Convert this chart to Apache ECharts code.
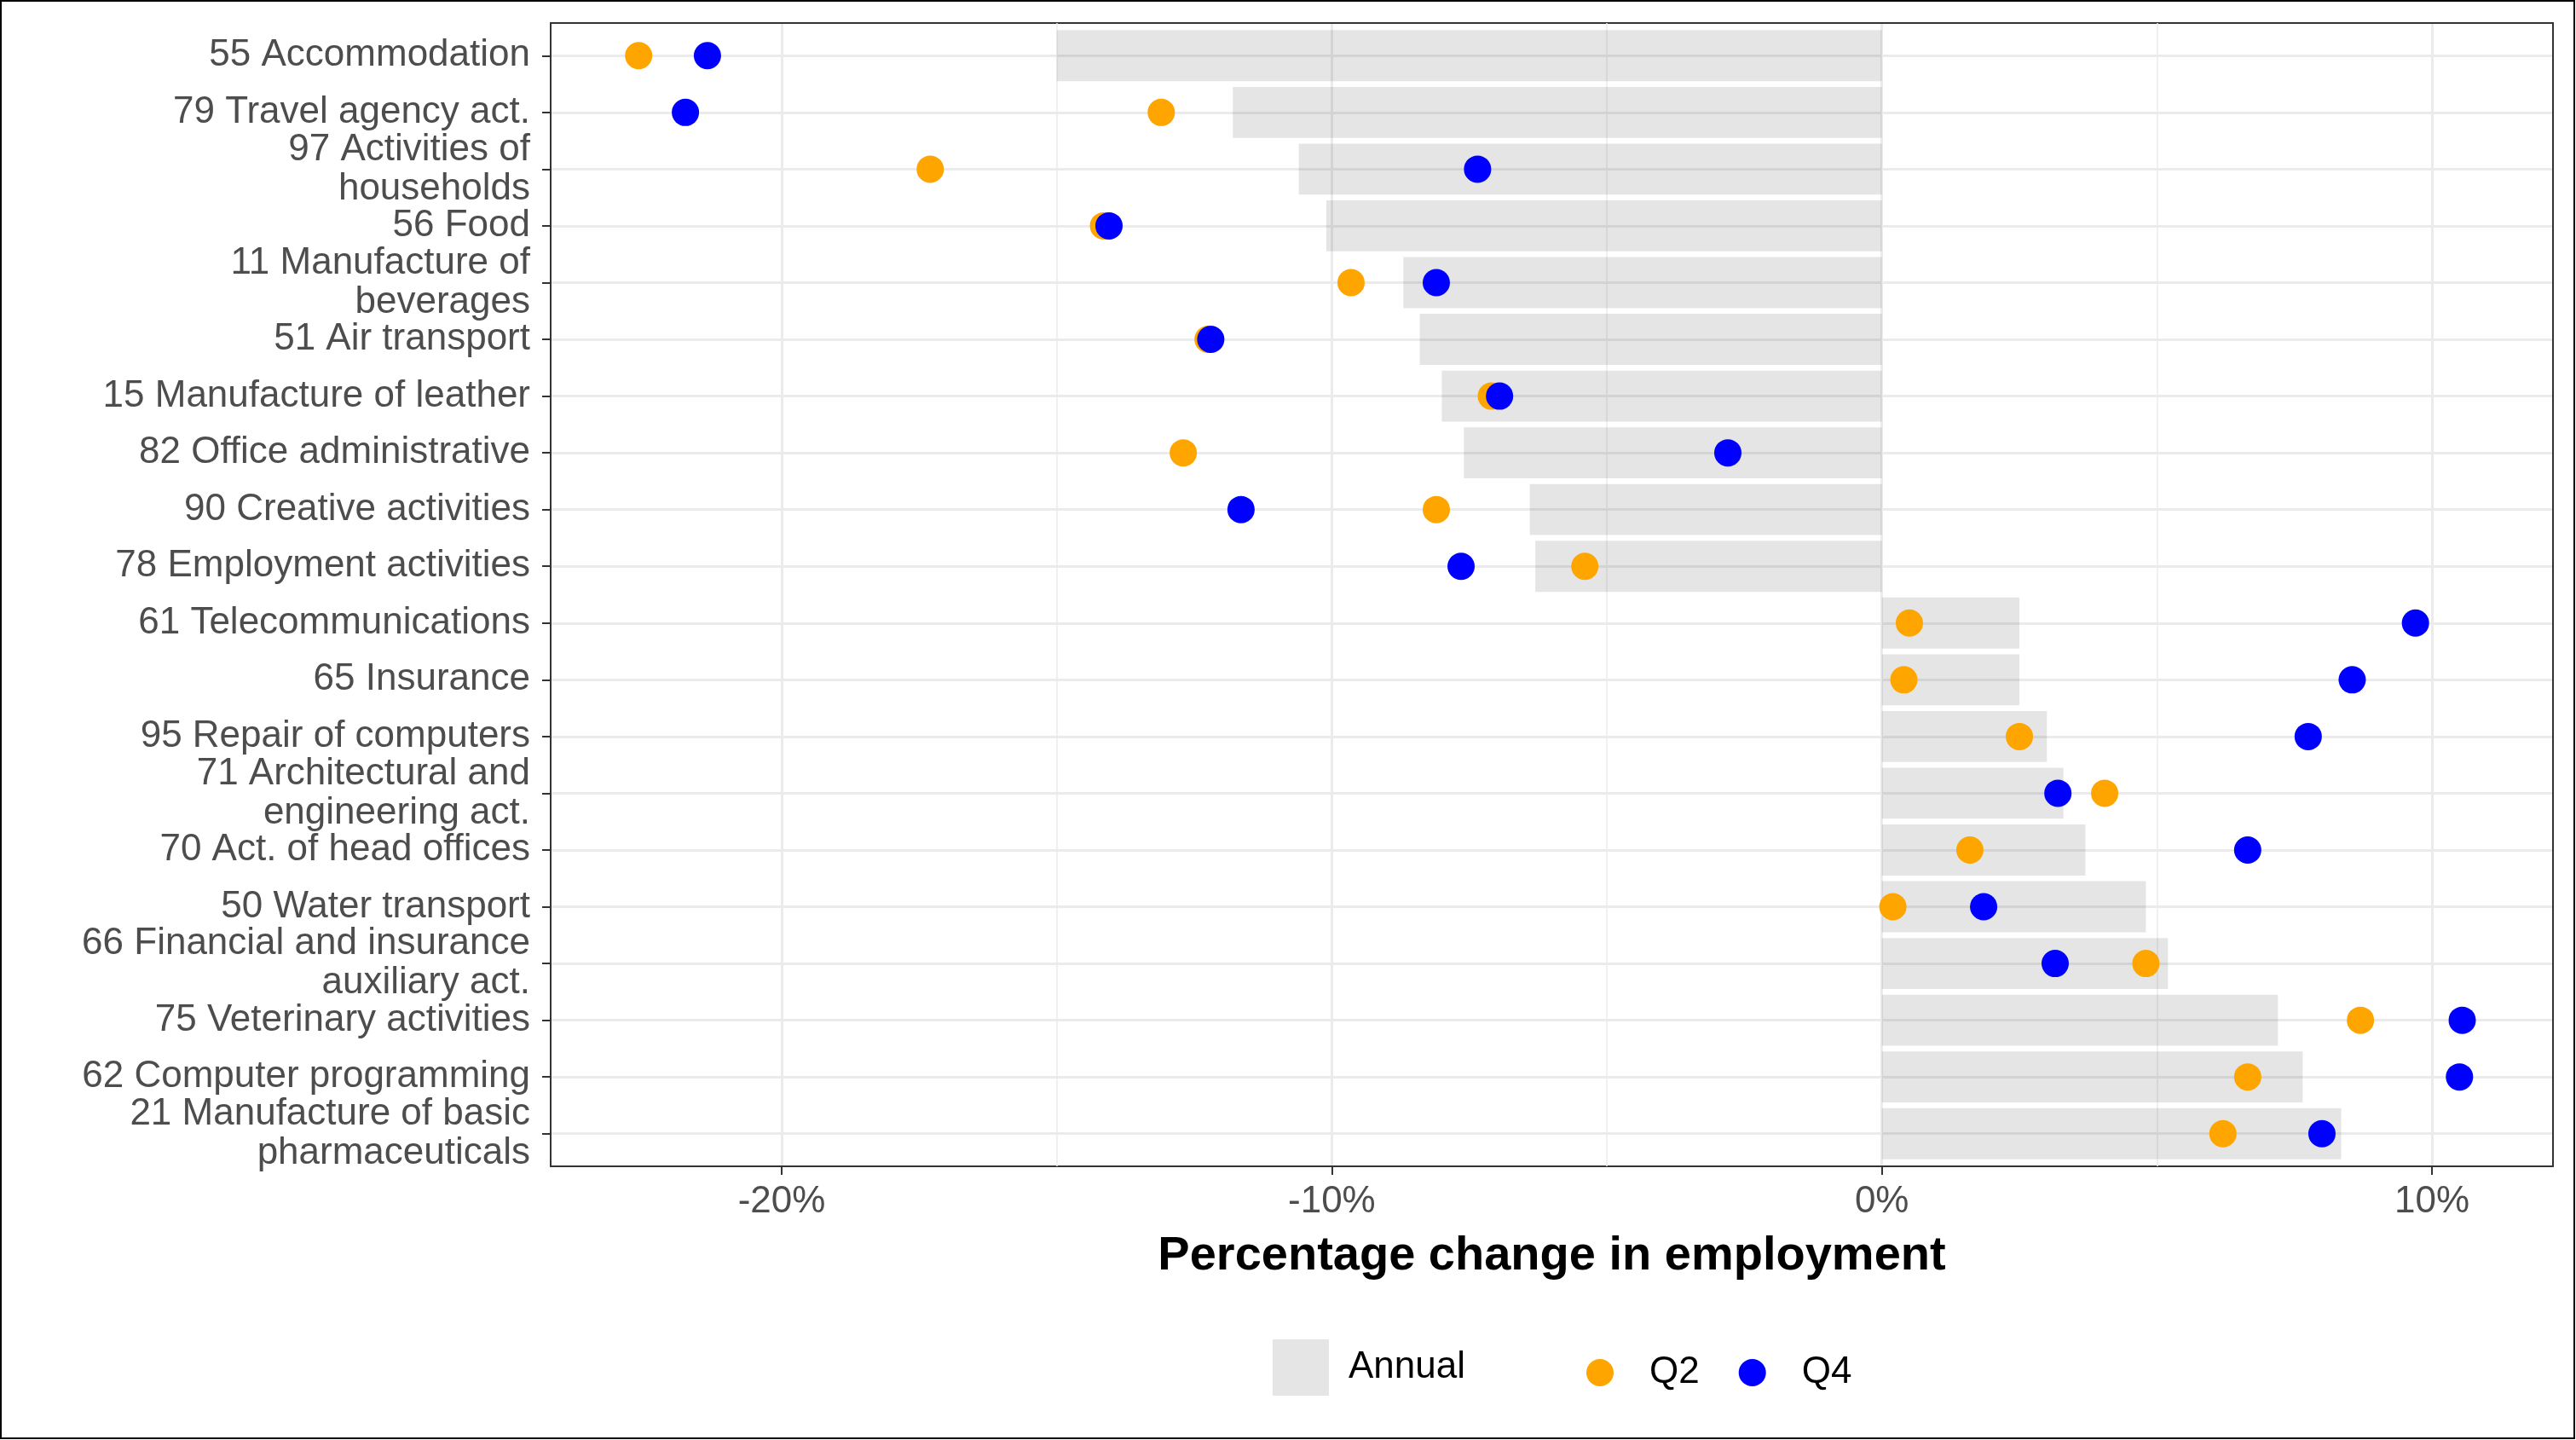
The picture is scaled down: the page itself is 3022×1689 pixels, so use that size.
<!DOCTYPE html>
<html>
<head>
<meta charset="utf-8">
<script src="https://cdn.jsdelivr.net/npm/echarts@6/dist/echarts.min.js"></script>
<style>
html,body{margin:0;padding:0;background:#ffffff;}
#chart{width:3022px;height:1689px;}
</style>
</head>
<body>
<div id="chart"></div>
<script>
// ---- data (top to bottom) ----
const categories = [
  "55 Accommodation",
  "79 Travel agency act.",
  "97 Activities of\nhouseholds",
  "56 Food",
  "11 Manufacture of\nbeverages",
  "51 Air transport",
  "15 Manufacture of leather",
  "82 Office administrative",
  "90 Creative activities",
  "78 Employment activities",
  "61 Telecommunications",
  "65 Insurance",
  "95 Repair of computers",
  "71 Architectural and\nengineering act.",
  "70 Act. of head offices",
  "50 Water transport",
  "66 Financial and insurance\nauxiliary act.",
  "75 Veterinary activities",
  "62 Computer programming",
  "21 Manufacture of basic\npharmaceuticals"
];
const annual = [-15.0, -11.8, -10.6, -10.1, -8.7, -8.4, -8.0, -7.6, -6.4, -6.3,
                 2.5, 2.5, 3.0, 3.3, 3.7, 4.8, 5.2, 7.2, 7.65, 8.35];
const q2 = [-22.6, -13.1, -17.3, -14.15, -9.65, -12.25, -7.1, -12.7, -8.1, -5.4,
             0.5, 0.4, 2.5, 4.05, 1.6, 0.2, 4.8, 8.7, 6.65, 6.2];
const q4 = [-21.35, -21.75, -7.35, -14.05, -8.1, -12.2, -6.95, -2.8, -11.65, -7.65,
             9.7, 8.55, 7.75, 3.2, 6.65, 1.85, 3.15, 10.55, 10.5, 8.0];
const xTicks = [-20, -10, 0, 10];
const xMinorGrid = [-15, -5, 5];
const xRange = [-24.2, 12.2];
const seriesNames = ["Annual", "Q2", "Q4"];
const axisTitle = "Percentage change in employment";

// ---- chart ----
const FONT = "'Liberation Sans', Arial, Helvetica, sans-serif";
const chart = echarts.init(document.getElementById('chart'), null, {renderer: 'canvas'});
const FRAME = {color: '#333333', width: 2};

const option = {
  animation: false,
  backgroundColor: '#ffffff',
  textStyle: {fontFamily: FONT},
  grid: [
    // data area (rows with ggplot-like 0.6 padding)
    {left: 646, right: 27, top: 32, bottom: 326, containLabel: false},
    // panel frame
    {left: 646, right: 27, top: 27, bottom: 321, containLabel: false}
  ],
  graphic: [{
    type: 'rect', silent: true, z: 100,
    shape: {x: 1, y: 1, width: 3019, height: 1686},
    style: {fill: 'none', stroke: '#000000', lineWidth: 2}
  }],
  legend: [
    {
      data: [seriesNames[0]], left: 1493, top: 1571, orient: 'horizontal',
      itemWidth: 66, itemHeight: 66, icon: 'rect', padding: 0, selectedMode: false,
      textStyle: {fontSize: 44, color: '#000000', fontFamily: FONT, padding: [6, 0, 0, 18]}
    },
    {
      data: [seriesNames[1], seriesNames[2]], left: 1861, top: 1588, orient: 'horizontal',
      itemWidth: 32, itemHeight: 32, icon: 'circle', itemGap: 46, padding: 0, selectedMode: false,
      textStyle: {fontSize: 44, color: '#000000', fontFamily: FONT, padding: [0, 0, 0, 37]}
    }
  ],
  xAxis: [
    { // data x axis (hidden)
      gridIndex: 0, type: 'value', min: xRange[0], max: xRange[1], show: false,
      axisLine: {show: false, onZero: false}, axisTick: {show: false},
      axisLabel: {show: false}, splitLine: {show: false}
    },
    { // visible bottom axis
      gridIndex: 1, type: 'value', position: 'bottom', min: xRange[0], max: xRange[1],
      name: axisTitle, nameLocation: 'middle', nameGap: 78,
      nameTextStyle: {fontSize: 56, fontWeight: 'bold', color: '#000000', fontFamily: FONT},
      axisLine: {show: true, onZero: false, lineStyle: FRAME},
      axisTick: {show: true, length: 10, customValues: xTicks, lineStyle: FRAME},
      axisLabel: {show: true, customValues: xTicks, margin: 20, fontSize: 44, color: '#4D4D4D',
                  fontFamily: FONT, formatter: v => v + '%'},
      splitLine: {show: true, lineStyle: {color: '#EBEBEB', width: 3}}
    },
    { // top frame line
      gridIndex: 1, type: 'value', position: 'top', min: xRange[0], max: xRange[1],
      axisLine: {show: true, onZero: false, lineStyle: FRAME},
      axisTick: {show: false}, axisLabel: {show: false}, splitLine: {show: false}
    }
  ],
  yAxis: [
    {
      gridIndex: 0, type: 'category', inverse: true, data: categories, position: 'left',
      axisLine: {show: false, onZero: false},
      axisTick: {show: true, alignWithLabel: true, length: 10, lineStyle: FRAME},
      axisLabel: {interval: 0, margin: 24, fontSize: 44, color: '#4D4D4D', fontFamily: FONT,
                  lineHeight: 46, align: 'right'},
      splitLine: {show: true, alignWithLabel: true, lineStyle: {color: '#EBEBEB', width: 3}}
    },
    { // left frame line
      gridIndex: 1, type: 'value', position: 'left', min: 0, max: 1,
      axisLine: {show: true, onZero: false, lineStyle: FRAME},
      axisTick: {show: false}, axisLabel: {show: false}, splitLine: {show: false}
    },
    { // right frame line
      gridIndex: 1, type: 'value', position: 'right', min: 0, max: 1,
      axisLine: {show: true, onZero: false, lineStyle: FRAME},
      axisTick: {show: false}, axisLabel: {show: false}, splitLine: {show: false}
    }
  ],
  series: [
    { // minor vertical gridlines across the full panel
      name: 'minorGrid', type: 'line', xAxisIndex: 1, yAxisIndex: 1, data: [], z: 1,
      silent: true,
      markLine: {
        silent: true, symbol: 'none', z: 1, animation: false,
        label: {show: false},
        lineStyle: {color: '#EBEBEB', width: 1.5, type: 'solid'},
        data: xMinorGrid.map(v => ({xAxis: v}))
      }
    },
    {
      name: seriesNames[0], type: 'bar', xAxisIndex: 0, yAxisIndex: 0, data: annual,
      barWidth: '90%', z: 2,
      itemStyle: {color: 'rgba(0,0,0,0.1)'}
    },
    {
      name: seriesNames[1], type: 'scatter', xAxisIndex: 0, yAxisIndex: 0, z: 3,
      data: q2.map((v, i) => [v, i]), symbol: 'circle', symbolSize: 32,
      itemStyle: {color: '#FFA500', opacity: 1}
    },
    {
      name: seriesNames[2], type: 'scatter', xAxisIndex: 0, yAxisIndex: 0, z: 4,
      data: q4.map((v, i) => [v, i]), symbol: 'circle', symbolSize: 32,
      itemStyle: {color: '#0000FF', opacity: 1}
    }
  ]
};
chart.setOption(option);
</script>
</body>
</html>
